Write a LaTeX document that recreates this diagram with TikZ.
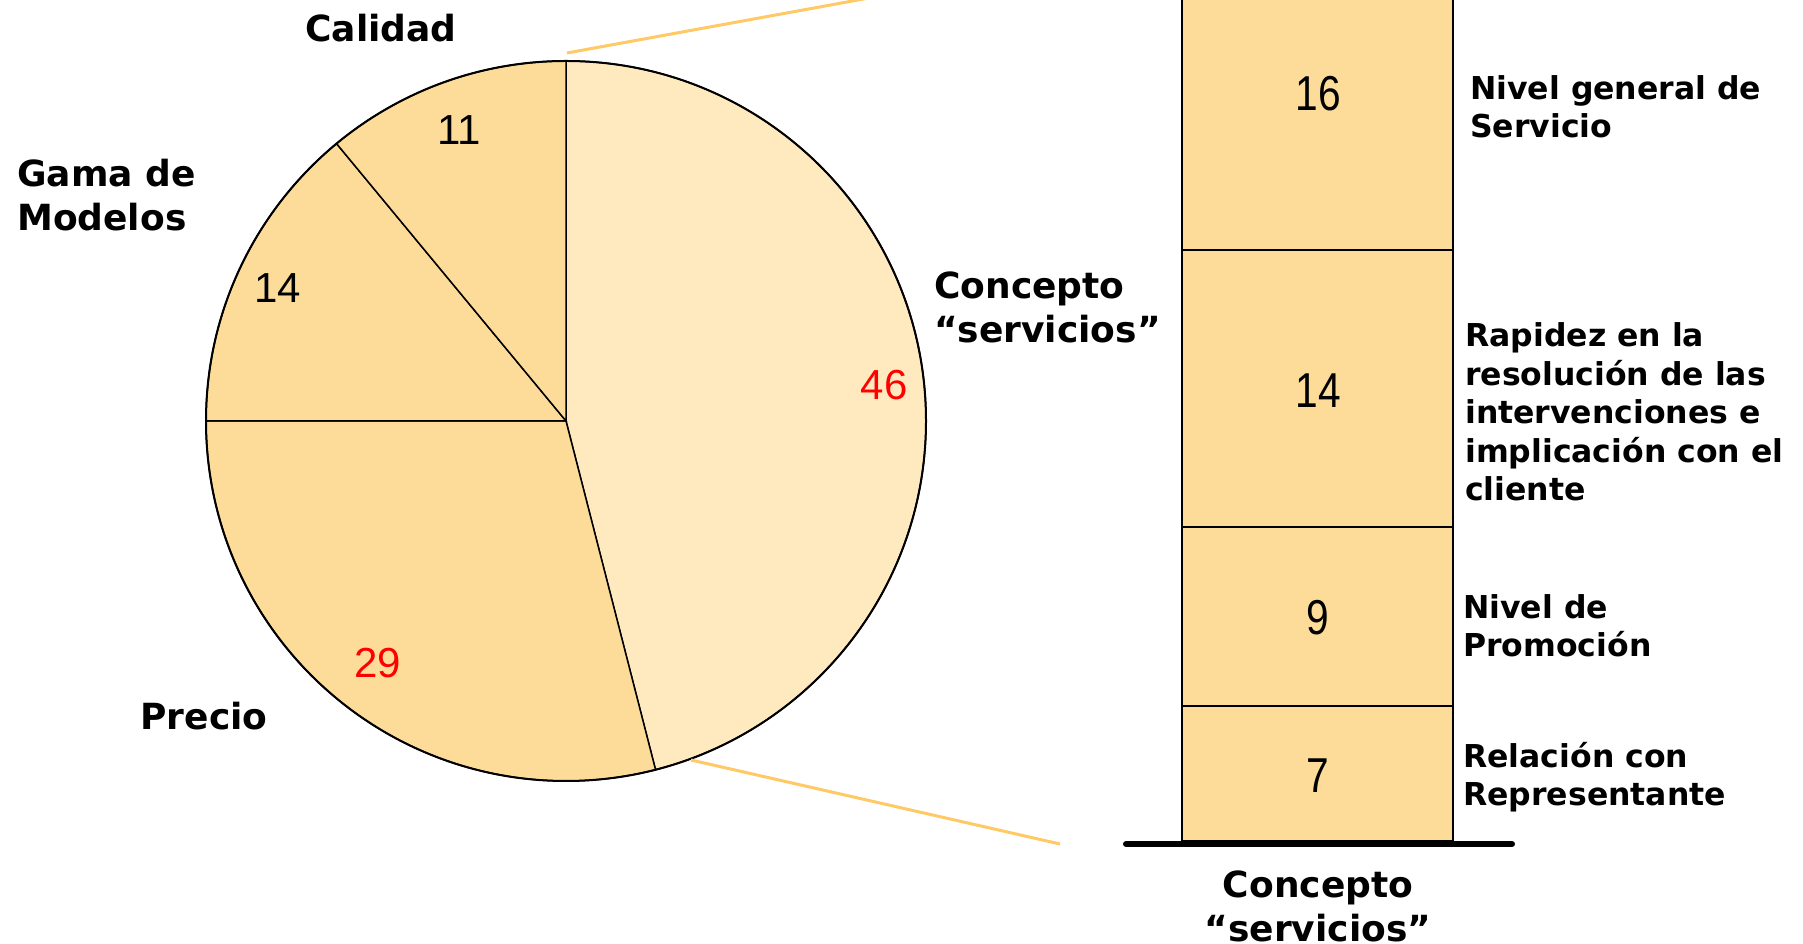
\documentclass[tikz,border=0pt]{standalone}
\usepackage{fontspec}
\newfontfamily\lblfont{DejaVu Sans}
\newfontfamily\numfont{Liberation Sans}
\newfontfamily\barnumfont{Liberation Sans}[FakeStretch=0.83]
\definecolor{slicedark}{HTML}{FDDC9A}
\definecolor{slicelight}{HTML}{FFE9BF}
\definecolor{guide}{HTML}{FFC966}
\definecolor{numred}{HTML}{FF0000}
\tikzset{
  slice/.style={draw=black, line width=1.5pt},
  pielabel/.style={inner sep=0pt, align=left, font=\lblfont\bfseries\fontsize{36}{44}\selectfont},
  sidelabel/.style={inner sep=0pt, align=left, anchor=west, font=\lblfont\bfseries\fontsize{31.5}{38.5}\selectfont},
  pienum/.style={inner sep=0pt, font=\numfont\fontsize{42}{42}\selectfont},
  barnum/.style={inner sep=0pt, font=\barnumfont\fontsize{49}{49}\selectfont},
  barseg/.style={fill=slicedark, draw=black, line width=1.5pt},
  guideline/.style={draw=guide, line width=3pt},
  baseline/.style={draw=black, line width=6pt, line cap=round}
}
\begin{document}
\begin{tikzpicture}[x=1pt, y=1pt]
\path[use as bounding box] (0,0) rectangle (1803,944);
\clip (0,0) rectangle (1803,944);

% pie chart
\coordinate (C) at (566,523);
\filldraw[slice, fill=slicelight] (C) -- ++(90:360) arc[start angle=90, end angle=-75.6, radius=360] -- cycle;
\filldraw[slice, fill=slicedark] (C) -- ++(-75.6:360) arc[start angle=-75.6, end angle=-180, radius=360] -- cycle;
\filldraw[slice, fill=slicedark] (C) -- ++(180:360) arc[start angle=180, end angle=129.6, radius=360] -- cycle;
\filldraw[slice, fill=slicedark] (C) -- ++(129.6:360) arc[start angle=129.6, end angle=90, radius=360] -- cycle;
\draw[line width=2pt] (C) circle[radius=360];

% slice values
\node[pienum] (n11) at (459,814) {11};
\node[pienum] (n14) at (278,656) {14};
\node[pienum, text=numred] (n46) at (884,559) {46};
\node[pienum, text=numred] (n29) at (378,281) {29};

% slice names
\node[pielabel] (calidad) at (381,916) {Calidad};
\node[pielabel, anchor=west] (gama) at (17,749) {Gama de\\Modelos};
\node[pielabel, anchor=west] (concepto) at (934,637) {Concepto\\“servicios”};
\node[pielabel] (precio) at (204,228) {Precio};

% guide lines from the pie to the bar
\coordinate (g1a) at (567,891);
\coordinate (g1b) at (1182,1003);
\coordinate (g2a) at (691,184);
\coordinate (g2b) at (1060,100);
\draw[guideline] (g1a) -- (g1b);
\draw[guideline] (g2a) -- (g2b);

% stacked bar
\filldraw[barseg] (1182,103) rectangle (1453,238);
\filldraw[barseg] (1182,238) rectangle (1453,417);
\filldraw[barseg] (1182,417) rectangle (1453,694);
\filldraw[barseg] (1182,694) rectangle (1453,1020);
\draw[baseline] (1126,100) -- (1512,100);

\node[barnum] (b16) at (1318,850) {16};
\node[barnum] (b14) at (1318,553) {14};
\node[barnum] (b9) at (1318,326) {9};
\node[barnum] (b7) at (1318,168) {7};

\node[pielabel, align=center] (barname) at (1318,38) {Concepto\\“servicios”};

% segment descriptions
\node[sidelabel] (s16) at (1470,837) {Nivel general de\\Servicio};
\node[sidelabel] (s14) at (1465,532) {Rapidez en la\\resolución de las\\intervenciones e\\implicación con el\\cliente};
\node[sidelabel] (s9) at (1463,318) {Nivel de\\Promoción};
\node[sidelabel] (s7) at (1463,167) {Relación con\\Representante};
\end{tikzpicture}
\end{document}
